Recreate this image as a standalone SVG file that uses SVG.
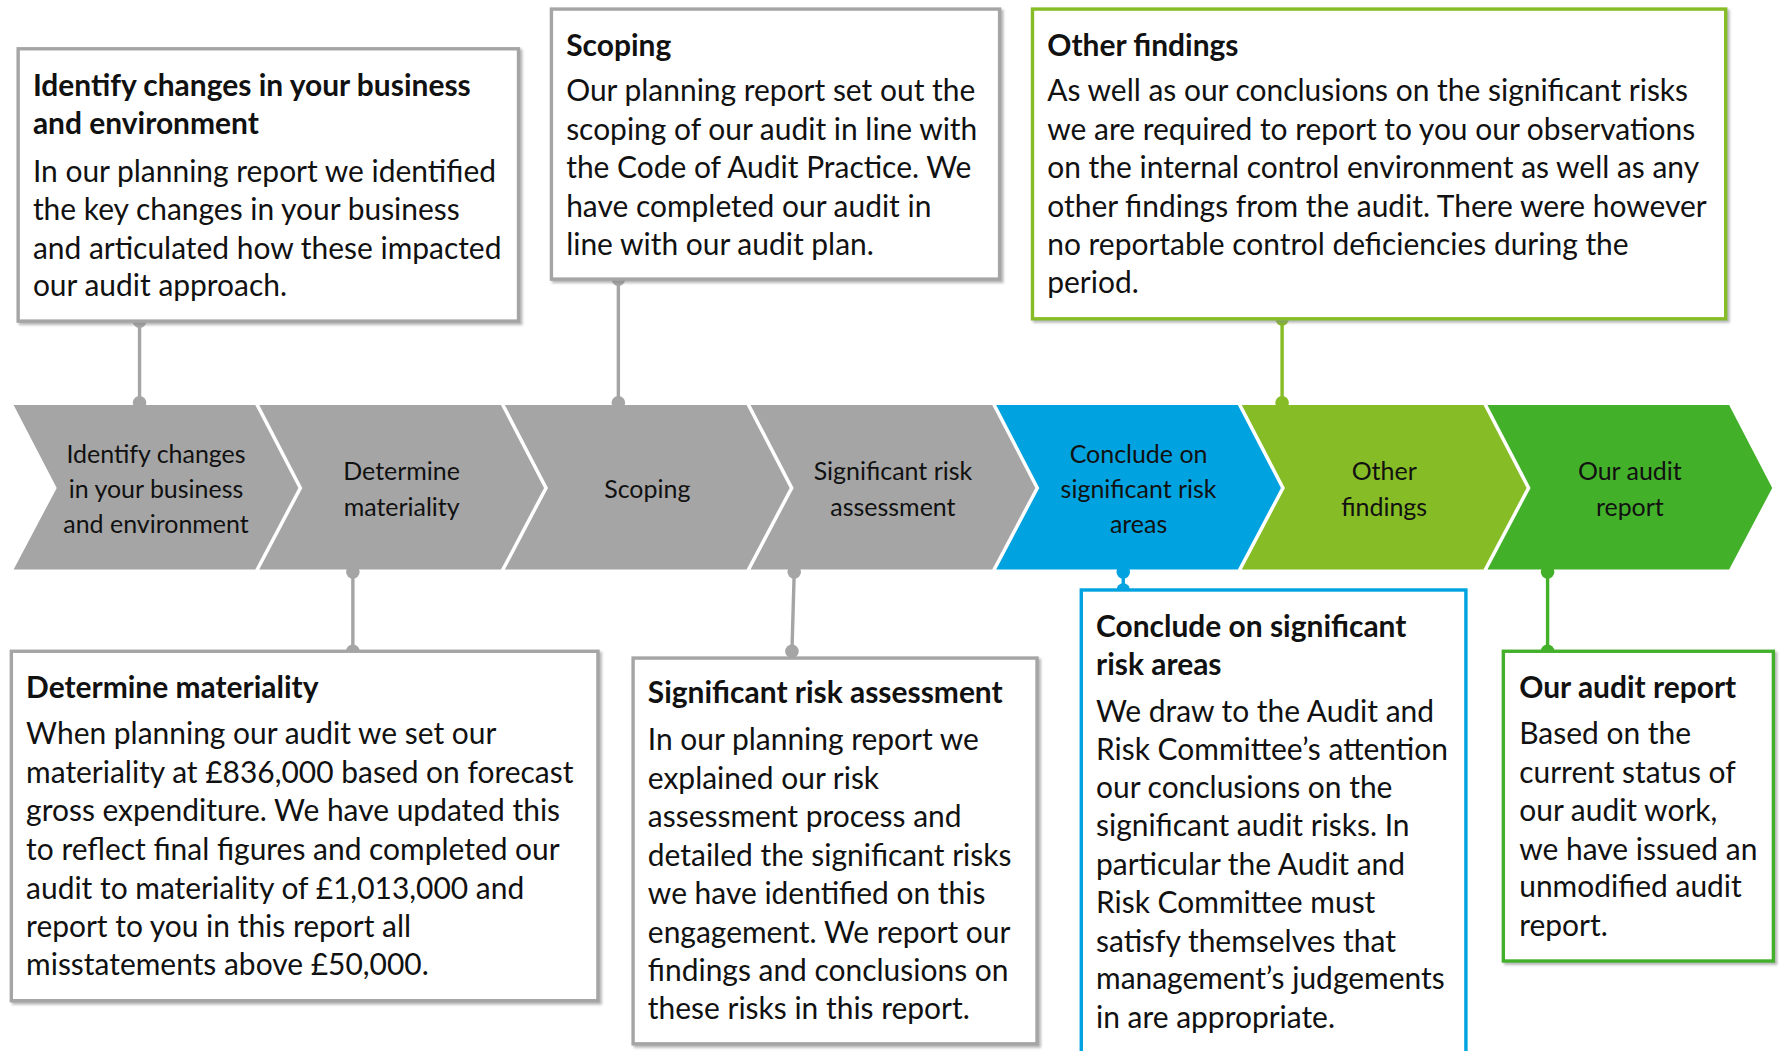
<svg xmlns="http://www.w3.org/2000/svg" width="1779" height="1051" viewBox="0 0 1779 1051">
<defs>
<style>
.t{font-family:Lato,"Liberation Sans",sans-serif;fill:#111;}
.b{font-size:26.4px;}
.h{font-size:26.4px;font-weight:bold;}
.c{font-size:22px;text-anchor:middle;}
.box{fill:#fff;stroke-width:3;}
.gray{stroke:#A5A5A5;}
.blue{stroke:#00A3E0;}
.lg{stroke:#86BC25;}
.dg{stroke:#43B02A;}
.ln{stroke-width:3;fill:none;}
</style>
<filter id="sh" x="-5%" y="-5%" width="110%" height="110%">
<feDropShadow dx="2" dy="2" stdDeviation="1" flood-color="#888" flood-opacity="0.6"/>
</filter>
</defs>
<rect width="1779" height="1051" fill="#fff"/>
<g transform="scale(1.1346)">
<g id="chevrons">
<g id="chev1"><polygon points="12,357 225,357 263,430 225,502 12,502 50,430" fill="#A5A5A5"/>
<text class="t c" x="137.5" y="408">Identify changes</text><text class="t c" x="137.5" y="439">in your business</text><text class="t c" x="137.5" y="470">and environment</text></g>
<g id="chev2"><polygon points="228.5,357 441.5,357 479.5,430 441.5,502 228.5,502 266.5,430" fill="#A5A5A5"/>
<text class="t c" x="354" y="423">Determine</text><text class="t c" x="354" y="455">materiality</text></g>
<g id="chev3"><polygon points="445,357 658,357 696,430 658,502 445,502 483,430" fill="#A5A5A5"/>
<text class="t c" x="570.5" y="439">Scoping</text></g>
<g id="chev4"><polygon points="661.5,357 874.5,357 912.5,430 874.5,502 661.5,502 699.5,430" fill="#A5A5A5"/>
<text class="t c" x="787" y="423">Significant risk</text><text class="t c" x="787" y="455">assessment</text></g>
<g id="chev5"><polygon points="878,357 1091,357 1129,430 1091,502 878,502 916,430" fill="#00A3E0"/>
<text class="t c" x="1003.5" y="408">Conclude on</text><text class="t c" x="1003.5" y="439">significant risk</text><text class="t c" x="1003.5" y="470">areas</text></g>
<g id="chev6"><polygon points="1094.5,357 1307.5,357 1345.5,430 1307.5,502 1094.5,502 1132.5,430" fill="#86BC25"/>
<text class="t c" x="1220" y="423">Other</text><text class="t c" x="1220" y="455">findings</text></g>
<g id="chev7"><polygon points="1311,357 1524,357 1562,430 1524,502 1311,502 1349,430" fill="#43B02A"/>
<text class="t c" x="1436.5" y="423">Our audit</text><text class="t c" x="1436.5" y="455">report</text></g>
</g>
<g id="connectors">
<line class="ln gray" x1="123" y1="283" x2="123" y2="355"/><circle cx="123" cy="283" r="6" fill="#A5A5A5"/><circle cx="123" cy="355" r="6" fill="#A5A5A5"/>
<line class="ln gray" x1="545" y1="246" x2="545" y2="355"/><circle cx="545" cy="246" r="6" fill="#A5A5A5"/><circle cx="545" cy="355" r="6" fill="#A5A5A5"/>
<line class="ln lg" x1="1130" y1="281" x2="1130" y2="355"/><circle cx="1130" cy="281" r="6" fill="#86BC25"/><circle cx="1130" cy="355" r="6" fill="#86BC25"/>
<line class="ln gray" x1="311" y1="504" x2="311" y2="574"/><circle cx="311" cy="504" r="6" fill="#A5A5A5"/><circle cx="311" cy="574" r="6" fill="#A5A5A5"/>
<line class="ln gray" x1="700" y1="504" x2="698" y2="574"/><circle cx="700" cy="504" r="6" fill="#A5A5A5"/><circle cx="698" cy="574" r="6" fill="#A5A5A5"/>
<line class="ln blue" x1="990" y1="504" x2="990" y2="520"/><circle cx="990" cy="504" r="6" fill="#00A3E0"/><circle cx="990" cy="520" r="6" fill="#00A3E0"/>
<line class="ln dg" x1="1364" y1="504" x2="1364" y2="574"/><circle cx="1364" cy="504" r="6" fill="#43B02A"/><circle cx="1364" cy="574" r="6" fill="#43B02A"/>
</g>
<g id="boxA"><rect class="box gray" x="16" y="43" width="441" height="240" filter="url(#sh)"/>
<text class="t h" x="29" y="85">Identify changes in your business</text>
<text class="t h" x="29" y="118">and environment</text>
<text class="t b" x="29" y="160">In our planning report we identified</text>
<text class="t b" x="29" y="194">the key changes in your business</text>
<text class="t b" x="29" y="228">and articulated how these impacted</text>
<text class="t b" x="29" y="261">our audit approach.</text></g>
<g id="boxB"><rect class="box gray" x="486" y="8" width="395" height="238" filter="url(#sh)"/>
<text class="t h" x="499" y="49">Scoping</text>
<text class="t b" x="499" y="89">Our planning report set out the</text>
<text class="t b" x="499" y="123">scoping of our audit in line with</text>
<text class="t b" x="499" y="157">the Code of Audit Practice. We</text>
<text class="t b" x="499" y="191">have completed our audit in</text>
<text class="t b" x="499" y="225">line with our audit plan.</text></g>
<g id="boxC"><rect class="box lg" x="910" y="8" width="611" height="273" filter="url(#sh)"/>
<text class="t h" x="923" y="49">Other findings</text>
<text class="t b" x="923" y="89">As well as our conclusions on the significant risks</text>
<text class="t b" x="923" y="123">we are required to report to you our observations</text>
<text class="t b" x="923" y="157">on the internal control environment as well as any</text>
<text class="t b" x="923" y="191">other findings from the audit. There were however</text>
<text class="t b" x="923" y="225">no reportable control deficiencies during the</text>
<text class="t b" x="923" y="258">period.</text></g>
<g id="boxD"><rect class="box gray" x="10" y="574" width="517" height="308" filter="url(#sh)"/>
<text class="t h" x="23" y="615">Determine materiality</text>
<text class="t b" x="23" y="656">When planning our audit we set our</text>
<text class="t b" x="23" y="690">materiality at £836,000 based on forecast</text>
<text class="t b" x="23" y="724">gross expenditure. We have updated this</text>
<text class="t b" x="23" y="758">to reflect final figures and completed our</text>
<text class="t b" x="23" y="792">audit to materiality of £1,013,000 and</text>
<text class="t b" x="23" y="826">report to you in this report all</text>
<text class="t b" x="23" y="859">misstatements above £50,000.</text></g>
<g id="boxE"><rect class="box gray" x="558" y="580" width="356" height="340" filter="url(#sh)"/>
<text class="t h" x="571" y="620">Significant risk assessment</text>
<text class="t b" x="571" y="661">In our planning report we</text>
<text class="t b" x="571" y="695">explained our risk</text>
<text class="t b" x="571" y="729">assessment process and</text>
<text class="t b" x="571" y="763">detailed the significant risks</text>
<text class="t b" x="571" y="797">we have identified on this</text>
<text class="t b" x="571" y="831">engagement. We report our</text>
<text class="t b" x="571" y="865">findings and conclusions on</text>
<text class="t b" x="571" y="898">these risks in this report.</text></g>
<g id="boxF"><rect class="box blue" x="953" y="520" width="339" height="430"/>
<text class="t h" x="966" y="561">Conclude on significant</text>
<text class="t h" x="966" y="595">risk areas</text>
<text class="t b" x="966" y="636">We draw to the Audit and</text>
<text class="t b" x="966" y="670">Risk Committee’s attention</text>
<text class="t b" x="966" y="703">our conclusions on the</text>
<text class="t b" x="966" y="737">significant audit risks. In</text>
<text class="t b" x="966" y="771">particular the Audit and</text>
<text class="t b" x="966" y="805">Risk Committee must</text>
<text class="t b" x="966" y="839">satisfy themselves that</text>
<text class="t b" x="966" y="872">management’s judgements</text>
<text class="t b" x="966" y="906">in are appropriate.</text></g>
<g id="boxG"><rect class="box dg" x="1325" y="574" width="238" height="273" filter="url(#sh)"/>
<text class="t h" x="1339" y="615">Our audit report</text>
<text class="t b" x="1339" y="656">Based on the</text>
<text class="t b" x="1339" y="690">current status of</text>
<text class="t b" x="1339" y="724">our audit work,</text>
<text class="t b" x="1339" y="758">we have issued an</text>
<text class="t b" x="1339" y="791">unmodified audit</text>
<text class="t b" x="1339" y="825">report.</text></g>
</g>
</svg>
